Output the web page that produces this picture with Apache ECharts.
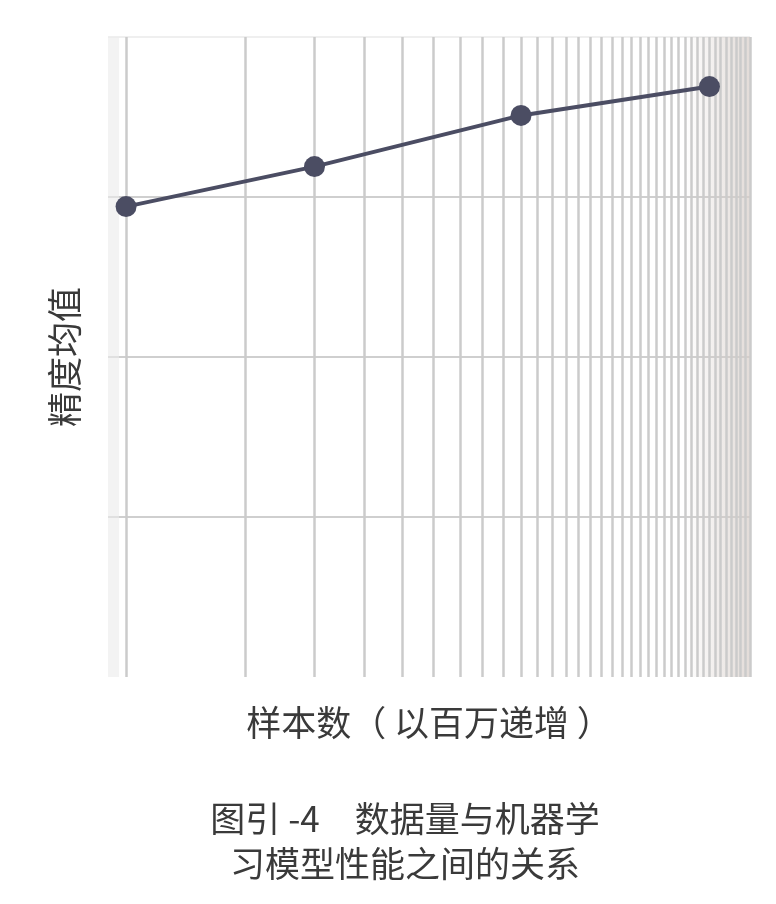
<!DOCTYPE html>
<html>
<head>
<meta charset="utf-8">
<script src="https://cdn.jsdelivr.net/npm/echarts@6/dist/echarts.min.js"></script>
<style>
  html, body { margin: 0; padding: 0; background: #fff; }
  #main { width: 776px; height: 904px; }
</style>
</head>
<body>
<div id="main"></div>
<script>
// samples, in millions (log axis)
const sampleSizes = [1, 3, 10, 30];
// mean accuracy, arbitrary units
const accuracy = [2.94, 3.19, 3.51, 3.69];
// vertical grid lines at every integer on the log axis
const xGridValues = [];
for (let v = 1; v <= 38; v++) xGridValues.push(v);

const xName = '样本数（ 以百万递增 ）';
const yName = '精度均值';
const caption = ['图引 -4　数据量与机器学', '习模型性能之间的关系'];

const font = '"Noto Sans CJK SC", "Noto Sans", sans-serif';
const chart = echarts.init(document.getElementById('main'));

chart.setOption({
  backgroundColor: '#fff',
  animation: false,
  grid: { left: 108, right: 26, top: 37, bottom: 227 },
  xAxis: {
    type: 'log',
    min: 0.9,
    max: 38,
    name: xName,
    nameLocation: 'middle',
    nameGap: 28,
    nameTextStyle: { fontFamily: font, fontSize: 35, color: '#3a3a3a' },
    axisLine: { show: false },
    axisTick: { show: false },
    axisLabel: { show: false },
    splitLine: { show: false },
  },
  yAxis: {
    type: 'value',
    min: 0,
    max: 4,
    interval: 1,
    name: yName,
    nameLocation: 'middle',
    nameRotate: 90,
    nameGap: 26,
    nameTextStyle: { fontFamily: font, fontSize: 35, color: '#3a3a3a' },
    axisLine: { show: false },
    axisTick: { show: false },
    axisLabel: { show: false },
    splitLine: {
      show: true,
      lineStyle: {
        width: 2,
        color: ['rgba(0,0,0,0)', '#cfcfcf', '#cfcfcf', '#cfcfcf', '#efefef'],
      },
    },
  },
  graphic: [
    {
      type: 'text',
      x: 405,
      y: 796,
      style: {
        text: caption.join('\n'),
        align: 'center',
        verticalAlign: 'top',
        fontFamily: font,
        fontSize: 35,
        lineHeight: 45,
        fill: '#3a3a3a',
      },
    },
  ],
  series: [
    {
      type: 'line',
      data: sampleSizes.map((s, i) => [s, accuracy[i]]),
      symbol: 'circle',
      symbolSize: 21,
      lineStyle: { color: '#4b4d63', width: 4 },
      itemStyle: { color: '#4b4d63' },
      z: 5,
      markArea: {
        silent: true,
        data: [
          [
            {
              xAxis: 26,
              itemStyle: {
                color: new echarts.graphic.LinearGradient(0, 0, 1, 0, [
                  { offset: 0, color: 'rgba(215,205,200,0)' },
                  { offset: 1, color: 'rgba(215,205,200,0.7)' },
                ]),
              },
            },
            { xAxis: 38 },
          ],
          [
            { xAxis: 0.9, itemStyle: { color: 'rgba(235,235,235,0.6)' } },
            { xAxis: 0.96 },
          ],
        ],
      },
      markLine: {
        silent: true,
        symbol: 'none',
        label: { show: false },
        lineStyle: { type: 'solid', color: '#cbcbcb', width: 2.5 },
        data: xGridValues.map((v) => ({ xAxis: v })),
        z: 1,
      },
    },
  ],
});
</script>
</body>
</html>
